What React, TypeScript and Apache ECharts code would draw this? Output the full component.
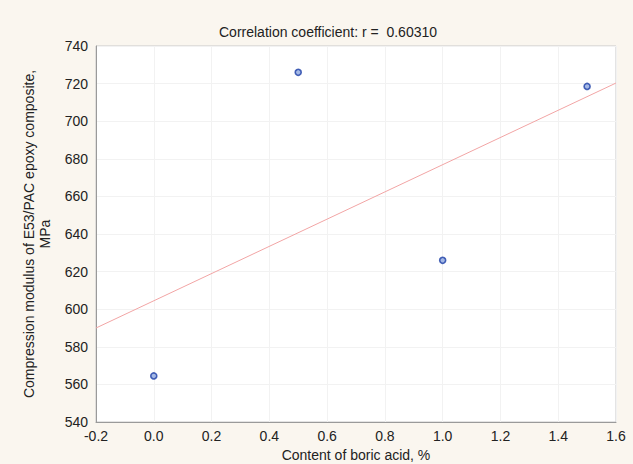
import React, { useEffect, useRef } from "react";
import * as echarts from "echarts";

const xValues = [0.0, 0.5, 1.0, 1.5];
const yValues = [564.5, 726, 626, 718.5];
const fitX = [-0.2, 1.6];
const fitY = [590, 720.3];
const titleText = "Correlation coefficient: r =  0.60310";
const xAxisName = "Content of boric acid, %";
const yAxisName = "Compression modulus of E53/PAC epoxy composite,\nMPa";

export default function App() {
  const ref = useRef<HTMLDivElement>(null);
  useEffect(() => {
    if (!ref.current) return;
    const chart = echarts.init(ref.current, undefined, { renderer: "svg" });
    const font = "Liberation Sans, Arial, sans-serif";
    chart.setOption({
      animation: false,
      backgroundColor: "#faf6ef",
      title: {
        text: titleText,
        left: 323,
        top: 20,
        textAlign: "center",
        textStyle: { fontSize: 14, fontWeight: "normal", color: "#222", fontFamily: font },
      },
      grid: {
        left: 96,
        right: 17,
        top: 46,
        bottom: 42,
        outerBoundsMode: "none",
        containLabel: false,
        show: true,
        backgroundColor: "#ffffff",
        borderColor: "#c8c8c8",
        borderWidth: 1,
      },
      xAxis: {
        type: "value",
        min: -0.2,
        max: 1.6,
        interval: 0.2,
        name: xAxisName,
        nameLocation: "middle",
        nameGap: 25,
        nameTextStyle: { fontSize: 14, color: "#222", fontFamily: font },
        axisLine: { show: true, onZero: false, lineStyle: { color: "#9a9a9a" } },
        axisTick: { show: false },
        axisLabel: {
          fontSize: 14,
          color: "#222",
          fontFamily: font,
          margin: 7,
          formatter: (v: number) => v.toFixed(1),
        },
        splitLine: { show: true, lineStyle: { color: "#f2f2f2" } },
      },
      yAxis: {
        type: "value",
        min: 540,
        max: 740,
        interval: 20,
        name: yAxisName,
        nameLocation: "middle",
        nameGap: 43,
        nameTextStyle: { fontSize: 14, color: "#222", fontFamily: font, lineHeight: 16 },
        axisLine: { show: true, onZero: false, lineStyle: { color: "#9a9a9a" } },
        axisTick: { show: false },
        axisLabel: { fontSize: 14, color: "#222", fontFamily: font, margin: 8 },
        splitLine: { show: true, lineStyle: { color: "#f2f2f2" } },
      },
      series: [
        {
          type: "line",
          data: fitX.map((x, i) => [x, fitY[i]]),
          symbol: "none",
          lineStyle: { color: "#f2a5a5", width: 1 },
          z: 2,
        },
        {
          type: "scatter",
          data: xValues.map((x, i) => [x, yValues[i]]),
          symbol: "circle",
          symbolSize: 6,
          itemStyle: { color: "#8fa8e0", borderColor: "#1d3fa6", borderWidth: 1.6 },
          z: 3,
        },
      ],
    });
    return () => chart.dispose();
  }, []);
  return (
    <div
      ref={ref}
      style={{ position: "fixed", left: 0, top: 0, width: 633, height: 464 }}
    />
  );
}
